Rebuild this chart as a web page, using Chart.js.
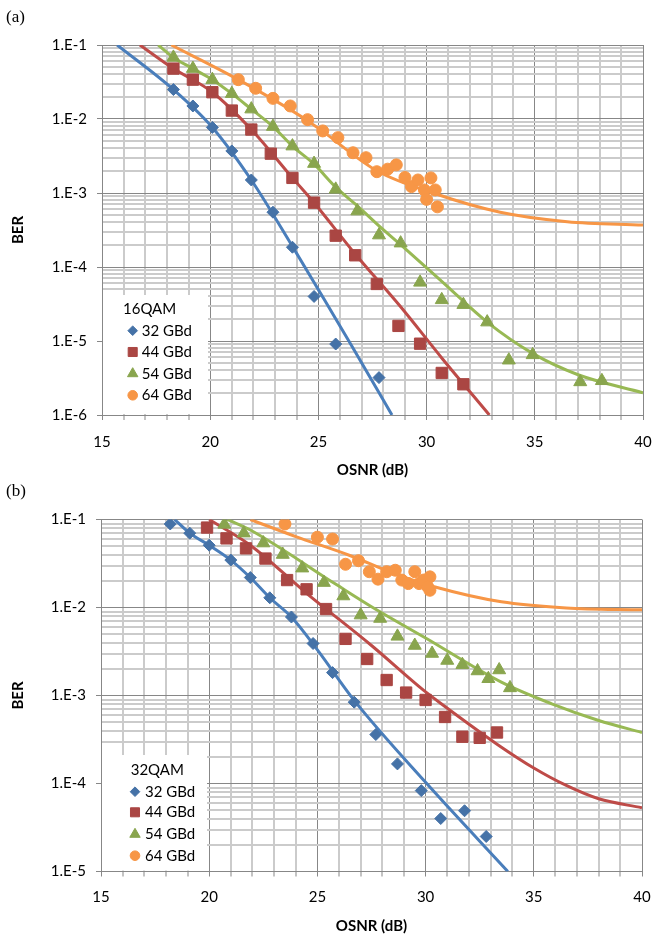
<!DOCTYPE html>
<html>
<head>
<meta charset="utf-8">
<script src="https://cdn.jsdelivr.net/npm/chart.js@4.4.0/dist/chart.umd.min.js"></script>
<style>
  body { margin: 0; background: #fff; width: 653px; height: 939px; position: relative; overflow: hidden; }
  .panel { position: absolute; left: 0; }
  .tag { position: absolute; left: 6px; font-family: "Liberation Serif", "DejaVu Serif", serif; font-size: 17px; color: #000; }
</style>
</head>
<body>
<div class="panel" style="top:0"><canvas id="chartA" width="653" height="486"></canvas></div>
<div class="panel" style="top:486px"><canvas id="chartB" width="653" height="453"></canvas></div>
<div class="tag" style="top:7px">(a)</div>
<div class="tag" style="top:481px">(b)</div>
<script>
// axis ticks / labels
const xTicks = [15, 20, 25, 30, 35, 40];
const decadesA = [1e-1, 1e-2, 1e-3, 1e-4, 1e-5, 1e-6];
const decadeLabelsA = ['1.E-1', '1.E-2', '1.E-3', '1.E-4', '1.E-5', '1.E-6'];
const decadesB = [1e-1, 1e-2, 1e-3, 1e-4, 1e-5];
const decadeLabelsB = ['1.E-1', '1.E-2', '1.E-3', '1.E-4', '1.E-5'];
const rateLabels = ['32 GBd', '44 GBd', '54 GBd', '64 GBd'];

// (a) 16QAM measured
const a32Osnr = [18.3, 19.2, 20.1, 21.0, 21.9, 22.9, 23.8, 24.8, 25.8, 27.8];
const a32Ber = [2.5e-2, 1.5e-2, 7.7e-3, 3.7e-3, 1.5e-3, 5.5e-4, 1.85e-4, 4.0e-5, 9.1e-6, 3.2e-6];
const a44Osnr = [18.3, 19.2, 20.1, 21.0, 21.9, 22.8, 23.8, 24.8, 25.8, 26.7, 27.7, 28.7, 29.7, 30.7, 31.7];
const a44Ber = [4.8e-2, 3.4e-2, 2.3e-2, 1.3e-2, 7.2e-3, 3.4e-3, 1.6e-3, 7.4e-4, 2.65e-4, 1.44e-4, 5.9e-5, 1.6e-5, 9.2e-6, 3.7e-6, 2.6e-6];
const a54Osnr = [18.3, 19.2, 20.1, 21.0, 21.9, 22.9, 23.8, 24.8, 25.8, 26.8, 27.8, 28.8, 29.7, 30.7, 31.7, 32.8, 33.8, 34.9, 37.1, 38.1];
const a54Ber = [6.8e-2, 4.8e-2, 3.4e-2, 2.2e-2, 1.36e-2, 7.9e-3, 4.3e-3, 2.5e-3, 1.12e-3, 5.7e-4, 2.7e-4, 2.1e-4, 6.2e-5, 3.6e-5, 3.1e-5, 1.8e-5, 5.5e-6, 6.5e-6, 2.8e-6, 2.9e-6];
const a64Osnr = [21.3, 22.1, 22.9, 23.7, 24.5, 25.2, 25.9, 26.6, 27.2, 27.7, 28.2, 28.6, 29.0, 29.3, 29.6, 29.9, 30.2, 30.4, 30.0, 30.5];
const a64Ber = [3.4e-2, 2.6e-2, 1.9e-2, 1.5e-2, 9.8e-3, 6.9e-3, 5.6e-3, 3.5e-3, 3.0e-3, 1.94e-3, 2.1e-3, 2.4e-3, 1.62e-3, 1.22e-3, 1.5e-3, 1.1e-3, 1.6e-3, 1.1e-3, 8.2e-4, 6.5e-4];

// (a) fitted curves
const a32FitOsnr = [15.7, 18.3, 20.1, 21.9, 23.8, 25.1, 26.55, 28.4];
const a32FitBer = [1e-1, 2.5e-2, 7.7e-3, 1.5e-3, 1.9e-4, 4.4e-5, 8.5e-6, 1e-6];
const a44FitOsnr = [16.75, 18.3, 20.1, 21.9, 23.8, 24.8, 26.7, 28.8, 30.7, 32.9];
const a44FitBer = [1e-1, 4.8e-2, 2.3e-2, 7.2e-3, 1.6e-3, 7.4e-4, 1.5e-4, 2.9e-5, 5.9e-6, 1e-6];
const a54FitOsnr = [17.6, 18.3, 19.2, 20.1, 21.0, 21.9, 22.9, 23.8, 24.8, 25.8, 26.8, 27.8, 28.8, 30.7, 32.8, 34.9, 37.0, 40];
const a54FitBer = [1e-1, 6.8e-2, 4.8e-2, 3.4e-2, 2.2e-2, 1.36e-2, 7.9e-3, 4.3e-3, 2.45e-3, 1.2e-3, 6.7e-4, 3.6e-4, 2.0e-4, 6.4e-5, 1.8e-5, 6.8e-6, 3.5e-6, 2.0e-6];
const a64FitOsnr = [18.2, 21.3, 24.5, 25.2, 27.7, 30.3, 33.4, 36.5, 40];
const a64FitBer = [1e-1, 3.4e-2, 9.5e-3, 6.8e-3, 2.0e-3, 1.0e-3, 5.5e-4, 4.1e-4, 3.7e-4];

// (b) 32QAM measured
const b32Osnr = [18.2, 19.1, 20.0, 21.0, 21.9, 22.8, 23.8, 24.8, 25.7, 26.7, 27.7, 28.7, 29.8, 30.7, 31.8, 32.8];
const b32Ber = [8.9e-2, 7.0e-2, 5.1e-2, 3.46e-2, 2.19e-2, 1.29e-2, 7.8e-3, 3.9e-3, 1.82e-3, 8.4e-4, 3.6e-4, 1.67e-4, 8.3e-5, 4.0e-5, 4.9e-5, 2.5e-5];
const b44Osnr = [19.9, 20.8, 21.7, 22.6, 23.6, 24.5, 25.4, 26.3, 27.3, 28.2, 29.1, 30.0, 30.9, 31.7, 32.5, 33.3];
const b44Ber = [8.1e-2, 6.1e-2, 4.7e-2, 3.6e-2, 2.05e-2, 1.61e-2, 9.6e-3, 4.4e-3, 2.6e-3, 1.5e-3, 1.08e-3, 8.9e-4, 5.7e-4, 3.4e-4, 3.3e-4, 3.8e-4];
const b54Osnr = [20.7, 21.6, 22.5, 23.4, 24.3, 25.3, 26.2, 27.0, 27.9, 28.7, 29.5, 30.3, 31.0, 31.7, 32.4, 32.9, 33.4, 33.9];
const b54Ber = [8.8e-2, 7.0e-2, 5.4e-2, 4.0e-2, 2.8e-2, 1.92e-2, 1.35e-2, 8.2e-3, 7.5e-3, 4.7e-3, 3.7e-3, 3.0e-3, 2.5e-3, 2.24e-3, 1.9e-3, 1.55e-3, 1.95e-3, 1.22e-3];
const b64Osnr = [23.5, 25.0, 25.7, 26.3, 26.9, 27.4, 27.8, 28.2, 28.6, 28.9, 29.2, 29.5, 29.7, 29.9, 30.2, 30.2, 30.1];
const b64Ber = [8.9e-2, 6.3e-2, 6.0e-2, 3.1e-2, 3.4e-2, 2.55e-2, 2.1e-2, 2.55e-2, 2.65e-2, 2.05e-2, 1.87e-2, 2.55e-2, 1.87e-2, 2.05e-2, 2.23e-2, 1.57e-2, 1.72e-2];

// (b) fitted curves
const b32FitOsnr = [18.4, 19.1, 20.0, 21.0, 21.9, 22.8, 23.8, 25.0, 26.7, 30.0, 33.8];
const b32FitBer = [1e-1, 7.0e-2, 5.1e-2, 3.46e-2, 2.19e-2, 1.29e-2, 7.8e-3, 3.3e-3, 8.8e-4, 1.03e-4, 1e-5];
const b44FitOsnr = [20.0, 21.9, 24.5, 27.5, 29.9, 30.8, 33.3, 35.0, 36.5, 38.0, 40];
const b44FitBer = [1e-1, 5.1e-2, 1.45e-2, 3.7e-3, 1.15e-3, 7.8e-4, 2.8e-4, 1.5e-4, 9.5e-5, 6.7e-5, 5.3e-5];
const b54FitOsnr = [20.84, 21.9, 25.8, 27.5, 30.0, 33.5, 35.8, 38.0, 40];
const b54FitBer = [1e-1, 7.6e-2, 1.87e-2, 1.02e-2, 4.5e-3, 1.42e-3, 8.1e-4, 5.2e-4, 3.8e-4];
const b64FitOsnr = [21.9, 24.0, 26.5, 28.5, 30.4, 33.5, 36.5, 40];
const b64FitBer = [1e-1, 6.4e-2, 3.9e-2, 2.45e-2, 1.72e-2, 1.16e-2, 9.9e-3, 9.4e-3];

const markerColors = ['#4572A7', '#AA4643', '#89A54E', '#F79646'];
const lineColors = ['#4A7EBB', '#BE4B48', '#98B954', '#F79646'];
const markerStyles = ['rectRot', 'rect', 'triangle', 'circle'];
const markerRadii = [6, 8, 7.5, 6];
const FONT = 'Lato, "Open Sans", sans-serif';

const pts = (xs, ys) => xs.map((x, i) => ({ x: x, y: ys[i] }));
const sameVal = (a, b) => Math.abs(a / b - 1) < 1e-6;

const legendBox = {
  id: 'legendBox',
  beforeDatasetsDraw(chart, args, o) {
    const ctx = chart.ctx, ca = chart.chartArea;
    ctx.save();
    ctx.fillStyle = '#fff';
    ctx.fillRect(ca.left + 1, ca.bottom - o.boxH, o.boxW, o.boxH - 1);
    ctx.fillStyle = '#000';
    ctx.font = '15px ' + FONT;
    ctx.textBaseline = 'middle';
    ctx.textAlign = 'left';
    ctx.fillText(o.title, ca.left + o.titleX, ca.bottom - o.titleY);
    rateLabels.forEach((lab, i) => {
      const y = ca.bottom - o.rows[i];
      ctx.fillStyle = markerColors[i];
      ctx.strokeStyle = markerColors[i];
      Chart.helpers.drawPoint(ctx, { pointStyle: markerStyles[i], radius: markerRadii[i] * 0.8, rotation: 0, borderWidth: 1 }, ca.left + o.markX, y);
      ctx.fillStyle = '#000';
      ctx.fillText(lab, ca.left + o.textX, y);
    });
    ctx.restore();
  }
};

function makeChart(id, measured, fits, decades, decadeLabels, g) {
  const datasets = [];
  measured.forEach((m, i) => {
    datasets.push({
      label: rateLabels[i], data: pts(m[0], m[1]),
      pointStyle: markerStyles[i], pointRadius: markerRadii[i],
      backgroundColor: markerColors[i], borderColor: markerColors[i],
      pointBorderWidth: 1, showLine: false
    });
  });
  fits.forEach((f, i) => {
    datasets.push({
      label: rateLabels[i] + ' fit', data: pts(f[0], f[1]),
      showLine: true, pointRadius: 0, borderColor: lineColors[i], borderWidth: 3,
      cubicInterpolationMode: 'monotone', fill: false
    });
  });

  const hi = Math.max(...decades), lo = Math.min(...decades);
  const yVals = [];
  decades.slice().sort((a, b) => a - b).forEach(d => {
    for (let m = 1; m <= 9; m++) {
      const v = +(m * d).toPrecision(3);
      if (v <= hi) yVals.push(v);
    }
  });
  const isDecade = v => decades.some(d => sameVal(v, d));

  return new Chart(document.getElementById(id), {
    type: 'scatter',
    data: { datasets: datasets },
    plugins: [legendBox],
    options: {
      responsive: false,
      animation: false,
      devicePixelRatio: 1,
      layout: { padding: { top: g.top, right: g.right, bottom: 0, left: 0 } },
      plugins: {
        legend: { display: false },
        tooltip: { enabled: false },
        legendBox: g.legend
      },
      scales: {
        x: {
          type: 'linear', min: 15, max: 40,
          afterFit: s => { s.height = g.xH; s.paddingLeft = 0; s.paddingRight = 0; },
          ticks: {
            stepSize: 1, autoSkip: false, maxRotation: 0, padding: g.xPad,
            color: '#000', font: { family: FONT, size: 15 },
            callback: v => xTicks.includes(v) ? String(v) : ''
          },
          grid: {
            color: c => (c.tick && c.tick.value % 5 === 0) ? '#878787' : '#cbcbcb',
            lineWidth: c => (c.tick && c.tick.value % 5 === 0) ? 1 : 2,
            tickColor: '#878787', tickWidth: 1, tickLength: 5
          },
          border: { color: '#878787', width: 1 },
          title: {
            display: true, text: 'OSNR (dB)', color: '#000',
            font: { family: FONT, size: 15, weight: 'bold' },
            padding: { top: 0, bottom: g.titlePad }
          }
        },
        y: {
          type: 'logarithmic', min: lo, max: hi,
          afterFit: s => { s.width = g.yW; s.paddingTop = 0; s.paddingBottom = 0; },
          afterBuildTicks: s => { s.ticks = yVals.map(v => ({ value: v })); },
          ticks: {
            autoSkip: false, padding: 10, color: '#000',
            font: { family: FONT, size: 15 },
            callback: v => {
              const k = decades.findIndex(d => sameVal(v, d));
              return k >= 0 ? decadeLabels[k] : '';
            }
          },
          grid: {
            color: c => (c.tick && isDecade(c.tick.value)) ? '#878787' : '#cbcbcb',
            lineWidth: c => (c.tick && isDecade(c.tick.value)) ? 1 : 2,
            tickColor: c => (c.tick && isDecade(c.tick.value)) ? '#878787' : 'rgba(0,0,0,0)',
            tickWidth: 1, tickLength: 5
          },
          border: { color: '#878787', width: 1 },
          title: {
            display: true, text: 'BER', color: '#000',
            font: { family: FONT, size: 15, weight: 'bold' },
            padding: { top: 9, bottom: 0 }
          }
        }
      }
    }
  });
}

makeChart('chartA',
  [[a32Osnr, a32Ber], [a44Osnr, a44Ber], [a54Osnr, a54Ber], [a64Osnr, a64Ber]],
  [[a32FitOsnr, a32FitBer], [a44FitOsnr, a44FitBer], [a54FitOsnr, a54FitBer], [a64FitOsnr, a64FitBer]],
  decadesA, decadeLabelsA,
  { top: 45, right: 10, xH: 71, yW: 102, xPad: 13, titlePad: 7,
    legend: { title: '16QAM', boxW: 105, boxH: 120, titleX: 21, titleY: 106,
              markX: 30.7, textX: 39.7, rows: [84.3, 63, 41.3, 19.7] } });

makeChart('chartB',
  [[b32Osnr, b32Ber], [b44Osnr, b44Ber], [b54Osnr, b54Ber], [b64Osnr, b64Ber]],
  [[b32FitOsnr, b32FitBer], [b44FitOsnr, b44FitBer], [b54FitOsnr, b54FitBer], [b64FitOsnr, b64FitBer]],
  decadesB, decadeLabelsB,
  { top: 33.5, right: 11, xH: 67.5, yW: 101, xPad: 11.5, titlePad: 4,
    legend: { title: '32QAM', boxW: 105, boxH: 116.5, titleX: 29.7, titleY: 101.5,
              markX: 34, textX: 44, rows: [79.8, 59.2, 37.2, 15.8] } });
</script>
</body>
</html>
